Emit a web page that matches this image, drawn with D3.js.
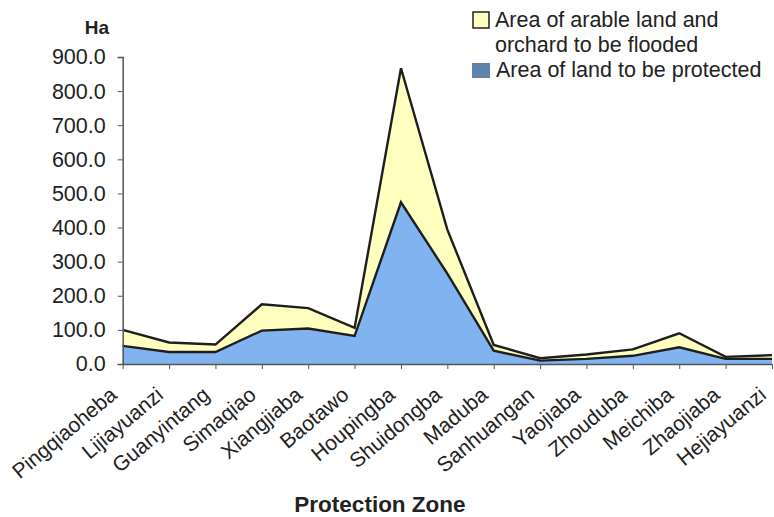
<!DOCTYPE html>
<html><head><meta charset="utf-8">
<script src="https://cdn.jsdelivr.net/npm/d3@7"></script>
<style>
body{margin:0;background:#fff;}
svg text{font-family:Arial,"Liberation Sans",sans-serif;fill:#222;}
</style></head>
<body><svg id="c" width="774" height="517"></svg>
<script>
const categories = ["Pingqiaoheba","Lijiayuanzi","Guanyintang","Simaqiao","Xiangjiaba","Baotawo","Houpingba","Shuidongba","Maduba","Sanhuangan","Yaojiaba","Zhouduba","Meichiba","Zhaojiaba","Hejiayuanzi"];
const protectedArea = [53,35,35,98,104,82,474,265,39,10,15,24,49,15,15];
const floodedArea   = [47,28,22,77,60,24,393,129,17,7,13,19,41,6,11];
const yTicks = [0,100,200,300,400,500,600,700,800,900];
const legendLines = ["Area of arable land and","orchard to be flooded","Area of land to be protected"];

const svg = d3.select("#c");
const x = d3.scalePoint().domain(categories).range([122.7, 772]);
const y = d3.scaleLinear().domain([0,900]).range([364, 57]);

const rows = categories.map((c,i)=>({cat:c, prot:protectedArea[i], flood:floodedArea[i]}));
const stack = d3.stack().keys(["prot","flood"])(rows);
const fills = {prot:"#80b3ef", flood:"#ffffc0"};

const area = d3.area().x(d=>x(d.data.cat)).y0(d=>y(d[0])).y1(d=>y(d[1]));
const line = d3.line().x(d=>x(d.data.cat)).y(d=>y(d[1]));

stack.forEach(s=>{
  svg.append("path").attr("d",area(s)).attr("fill",fills[s.key]).attr("stroke","none");
});
stack.forEach(s=>{
  svg.append("path").attr("d",line(s)).attr("fill","none").attr("stroke","#1e1e1e").attr("stroke-width",2.4).attr("stroke-linejoin","miter");
});

// y axis
const yAxis = svg.append("g").attr("transform","translate(122.7,0)")
  .call(d3.axisLeft(y).tickValues(yTicks).tickSize(5).tickPadding(12).tickFormat(d3.format(".1f")));
yAxis.select(".domain").attr("stroke","#555").attr("stroke-width",1.5);
yAxis.selectAll(".tick line").attr("stroke","#555");
yAxis.selectAll(".tick text").attr("font-size","21.5px").attr("fill","#222");

// x axis
const xAxis = svg.append("g").attr("transform","translate(0,364)")
  .call(d3.axisBottom(x).tickSize(5).tickSizeOuter(0));
xAxis.select(".domain").attr("stroke","#555").attr("stroke-width",1.5);
xAxis.selectAll(".tick line").attr("stroke","#555");
xAxis.selectAll(".tick text")
  .attr("font-size","21px").attr("fill","#222")
  .attr("text-anchor","end")
  .attr("transform","translate(-5,33) rotate(-40)")
  .attr("x",0).attr("y",0).attr("dy",0);

// axis titles
svg.append("text").attr("x",97).attr("y",34).attr("text-anchor","middle")
  .attr("font-size","19px").attr("font-weight","bold").text("Ha");
svg.append("text").attr("x",380).attr("y",512).attr("text-anchor","middle")
  .attr("font-size","22.5px").attr("font-weight","bold").text("Protection Zone");

// legend
svg.append("rect").attr("x",473).attr("y",12).attr("width",16).attr("height",16)
  .attr("fill",fills.flood).attr("stroke","#222").attr("stroke-width",1.5);
svg.append("text").attr("x",495).attr("y",27).attr("font-size","21.5px").text(legendLines[0]);
svg.append("text").attr("x",495).attr("y",52).attr("font-size","21.5px").text(legendLines[1]);
svg.append("rect").attr("x",472).attr("y",63).attr("width",18).attr("height",15)
  .attr("fill","#5f83ab");
svg.append("text").attr("x",496).attr("y",77).attr("font-size","21.5px").text(legendLines[2]);
</script></body></html>
